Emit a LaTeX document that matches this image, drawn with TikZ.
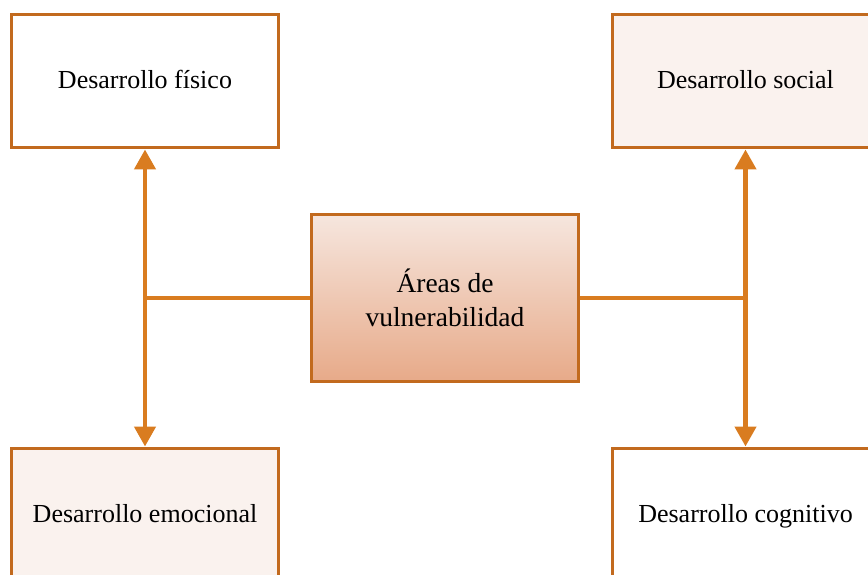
\documentclass[tikz,border=0pt]{standalone}
\usepackage{fontspec}
\setmainfont{Liberation Serif}
\usepackage{tikz}
\usetikzlibrary{positioning}
\usetikzlibrary{arrows.meta}

\definecolor{rim}{RGB}{194,106,30}
\definecolor{wire}{RGB}{217,124,32}
\definecolor{pale}{RGB}{250,242,238}
\definecolor{hubtop}{RGB}{246,230,222}
\definecolor{hubbot}{RGB}{231,170,137}

\begin{document}
\begin{tikzpicture}
			[x=1pt, y=1pt,
			box/.style = {draw=rim, line width=3pt, minimum width=267pt, minimum height=133pt, inner sep=0pt, text height=20pt, text depth=5pt, font=\fontsize{26}{31}\selectfont},
			hub/.style = {draw=rim, line width=3pt, minimum width=267pt, minimum height=166pt, inner sep=0pt, align=center, top color=hubtop, bottom color=hubbot, font=\fontsize{27.5}{34}\selectfont},
			link/.style = {draw=wire, line width=4.5pt},
			tip/.style = {-{Triangle[width=21pt,length=20pt]}}]
			\useasboundingbox (0,0) rectangle (868,574);
			\clip (0,0) rectangle (868,574);
			\node[hub] (0) at (445,276) {Áreas de\\vulnerabilidad};
			\node[box, fill=white] (1) [above left=64pt and 30pt of 0] {Desarrollo físico};
			\node[box, fill=pale] (2) [above right=64pt and 30.5pt of 0] {Desarrollo social};
			\node[box, fill=pale] (3) [below left=64pt and 30pt of 0] {Desarrollo emocional};
			\node[box, fill=white] (4) [below right=64pt and 30.5pt of 0] {Desarrollo cognitivo};
			\draw[link] (0) -- (1 |- 0);
			\draw[link] (0) -- (2 |- 0);
			\draw[link, tip] (1 |- 0) -- (1);
			\draw[link, tip] (1 |- 0) -- (3);
			\draw[link, tip] (2 |- 0) -- (2);
			\draw[link, tip] (2 |- 0) -- (4);
		\end{tikzpicture}
\end{document}
